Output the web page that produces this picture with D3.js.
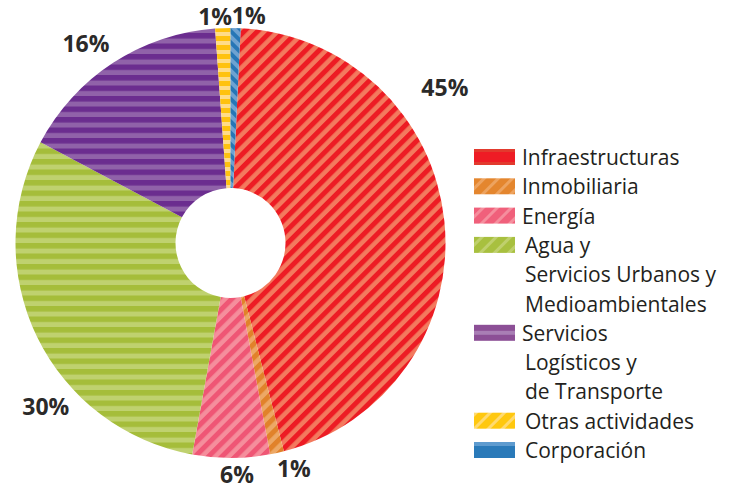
<!DOCTYPE html>
<html>
<head>
<meta charset="utf-8">
<script src="https://cdn.jsdelivr.net/npm/d3@7"></script>
<style>
body{margin:0;background:#fff;}
svg{display:block;}
</style>
</head>
<body>
<div id="chart"></div>
<script>
var categories = ["Infraestructuras","Inmobiliaria","Energía","Agua y Servicios Urbanos y Medioambientales","Servicios Logísticos y de Transporte","Otras actividades","Corporación"];
var legendLines = [["Infraestructuras"],["Inmobiliaria"],["Energía"],["Agua y","Servicios Urbanos y","Medioambientales"],["Servicios","Logísticos y","de Transporte"],["Otras actividades"],["Corporación"]];
var shares = [45.25,1.04,5.8,29.9,16.1,1.14,0.75];
var labels = ["45%","1%","6%","30%","16%","1%","1%"];

// styles (not data)
var pieStyle = [
  {dark:"#ED1C24",light:"#F37A5E",rot:-45,p:9.5,d:5},
  {dark:"#E1822A",light:"#EDA865",rot:-45,p:9.5,d:5},
  {dark:"#EF5675",light:"#F58E9C",rot:-45,p:9.5,d:5},
  {dark:"#A5BD3A",light:"#BFD16F",rot:0,p:10.5,d:5.5},
  {dark:"#6B2D8F",light:"#9062A9",rot:0,p:10.5,d:5.5},
  {dark:"#FFC20F",light:"#FFDC88",rot:0,p:9,d:5},
  {dark:"#2676B6",light:"#6EA2D1",rot:45,p:8,d:4}
];
var legendStyle = [
  {base:"#E23A2E",band:"#EE1C25",b0:3,b1:13},
  {dark:"#E4862E",light:"#EDA35F",rot:-45,p:10,d:7},
  {dark:"#F0607B",light:"#F58E9D",rot:-45,p:10,d:7},
  {dark:"#A8C03F",light:"#BFD06D",rot:-45,p:10,d:7},
  {base:"#8C4F96",band:"#A97EB5",b0:6,b1:10},
  {dark:"#FFC80F",light:"#FFDA70",rot:-45,p:10,d:7},
  {base:"#2A7AB9",band:"#5E9BCF",b0:0,b1:4}
];
// label anchor: angle (deg from top, clockwise) and distance from centre
var labelPlace = [[54,265],[164.3,234],[178.4,232],[228.4,247],[324,246],[-3.9,227],[4.6,228]];

var width = 731, height = 489;
var cx = 230.5, cy = 243, outerR = 215, innerR = 55;

var svg = d3.select("#chart")
    .append("svg")
    .attr("width",width)
    .attr("height",height);

var defs = svg.append("defs");

function makePattern(id,s){
  var pat = defs.append("pattern")
      .attr("id",id)
      .attr("patternUnits","userSpaceOnUse")
      .attr("width",20)
      .attr("height",s.p)
      .attr("patternTransform","rotate("+s.rot+")");
  pat.append("rect").attr("width",20).attr("height",s.p).attr("fill",s.light);
  pat.append("rect").attr("width",20).attr("height",s.d).attr("fill",s.dark);
}
pieStyle.forEach(function(s,i){ makePattern("pie"+i,s); });
legendStyle.forEach(function(s,i){ if(s.dark) makePattern("leg"+i,s); });

var startA = 2.7*Math.PI/180;
var pie = d3.pie()
    .sort(null)
    .value(function(d){ return d; })
    .startAngle(startA)
    .endAngle(startA+2*Math.PI);

var arc = d3.arc()
    .innerRadius(innerR)
    .outerRadius(outerR);

var g = svg.append("g")
    .attr("transform","translate("+cx+","+cy+")");

g.selectAll("path")
    .data(pie(shares))
    .enter()
    .append("path")
    .attr("d",arc)
    .attr("fill",function(d,i){ return "url(#pie"+i+")"; });

g.selectAll("text.pct")
    .data(labels)
    .enter()
    .append("text")
    .attr("class","pct")
    .attr("x",function(d,i){ return labelPlace[i][1]*Math.sin(labelPlace[i][0]*Math.PI/180); })
    .attr("y",function(d,i){ return -labelPlace[i][1]*Math.cos(labelPlace[i][0]*Math.PI/180); })
    .attr("dy","0.36em")
    .attr("text-anchor","middle")
    .attr("font-family","'Open Sans', sans-serif")
    .attr("font-weight",700)
    .attr("font-size",23)
    .attr("fill","#2b2a29")
    .text(function(d){ return d; });

// legend
var legX = 474, legY = 165, lineH = 29.3, swW = 41, swH = 16;
var rowIndex = 0;
legendLines.forEach(function(lines,i){
  var y = legY + rowIndex*lineH;
  var s = legendStyle[i];
  if(s.dark){
    svg.append("rect")
        .attr("x",legX).attr("y",y-swH).attr("width",swW).attr("height",swH)
        .attr("fill","url(#leg"+i+")");
  }else{
    svg.append("rect")
        .attr("x",legX).attr("y",y-swH).attr("width",swW).attr("height",swH)
        .attr("fill",s.base);
    svg.append("rect")
        .attr("x",legX).attr("y",y-swH+s.b0).attr("width",swW).attr("height",s.b1-s.b0)
        .attr("fill",s.band);
  }
  lines.forEach(function(t,j){
    svg.append("text")
        .attr("x",legX+(j==0 && i<5 && i!=3 ? 48 : 51))
        .attr("y",y+j*lineH)
        .attr("font-family","'Open Sans', sans-serif")
        .attr("font-size",21)
        .attr("fill","#231f20")
        .text(t);
  });
  rowIndex += lines.length;
});
</script>
</body>
</html>
